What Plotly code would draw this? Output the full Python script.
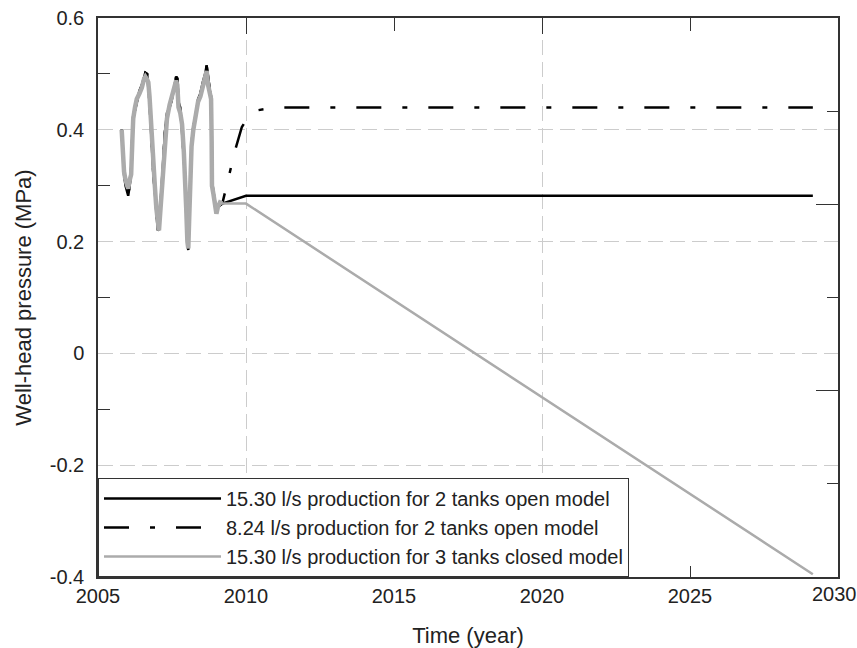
import plotly.graph_objects as go

# ---------------- data ----------------
hist_years = [2005.80, 2005.84, 2005.88, 2005.93, 2005.97, 2006.02, 2006.07, 2006.12, 2006.16, 2006.19,
              2006.25, 2006.31, 2006.40, 2006.48, 2006.55, 2006.60, 2006.66, 2006.70, 2006.74, 2006.78,
              2006.82, 2006.87, 2006.92, 2006.97, 2007.02, 2007.06, 2007.10, 2007.15, 2007.20, 2007.26,
              2007.33, 2007.42, 2007.50, 2007.58, 2007.64, 2007.68, 2007.72, 2007.78, 2007.84, 2007.90,
              2007.94, 2007.98, 2008.02, 2008.05, 2008.08, 2008.12, 2008.16, 2008.22, 2008.30, 2008.38,
              2008.46, 2008.54, 2008.62, 2008.67, 2008.72, 2008.78, 2008.82, 2008.84, 2008.85, 2008.90,
              2008.95, 2009.00, 2009.05, 2009.12, 2009.20]

observed_hist = [0.400, 0.360, 0.325, 0.310, 0.300, 0.295, 0.310, 0.320, 0.380, 0.420,
                 0.440, 0.455, 0.465, 0.475, 0.490, 0.495, 0.490, 0.485, 0.460, 0.420,
                 0.370, 0.330, 0.300, 0.260, 0.225, 0.220, 0.250, 0.290, 0.340, 0.390,
                 0.420, 0.445, 0.460, 0.478, 0.488, 0.480, 0.440, 0.430, 0.410, 0.360,
                 0.320, 0.260, 0.200, 0.188, 0.240, 0.320, 0.370, 0.400, 0.430, 0.450,
                 0.460, 0.478, 0.490, 0.505, 0.480, 0.465, 0.455, 0.380, 0.300, 0.285,
                 0.265, 0.250, 0.262, 0.270, 0.268]

model_hist = [0.400, 0.355, 0.320, 0.300, 0.290, 0.282, 0.300, 0.330, 0.390, 0.425,
              0.435, 0.450, 0.470, 0.480, 0.495, 0.502, 0.500, 0.480, 0.450, 0.410,
              0.360, 0.320, 0.290, 0.250, 0.220, 0.222, 0.260, 0.300, 0.350, 0.395,
              0.430, 0.440, 0.455, 0.480, 0.495, 0.492, 0.450, 0.440, 0.400, 0.350,
              0.310, 0.250, 0.195, 0.185, 0.250, 0.330, 0.375, 0.405, 0.425, 0.455,
              0.465, 0.485, 0.500, 0.515, 0.490, 0.470, 0.460, 0.360, 0.310, 0.290,
              0.270, 0.255, 0.262, 0.265, 0.268]

# forecasts
open15_years = [2010.00, 2029.15]
open15_values = [0.282, 0.282]

open8_years = [2009.30, 2009.43, 2009.63, 2009.86, 2010.10, 2010.40, 2011.00, 2029.15]
open8_values = [0.290, 0.320, 0.363, 0.405, 0.425, 0.435, 0.440, 0.440]

closed15_years = [2010.00, 2029.15]
closed15_values = [0.268, -0.395]

legend_names = ["15.30 l/s production for 2 tanks open model",
                "8.24 l/s production for 2 tanks open model",
                "15.30 l/s production for 3 tanks closed model"]

x_tick_vals = [2005, 2010, 2015, 2020, 2025, 2030]
x_tick_text = ["2005", "2010", "2015", "2020", "2025", "2030"]
y_tick_vals = [-0.4, -0.2, 0.0, 0.2, 0.4, 0.6]
y_tick_text = ["-0.4", "-0.2", "0", "0.2", "0.4", "0.6"]
y_minor_vals = [-0.3, -0.1, 0.1, 0.3, 0.5]

# ---------------- figure ----------------
FONT = "Liberation Sans, Arial, sans-serif"
AX = "#333333"
GRID = "#cccccc"
GRAY = "#ababab"
TXT = "#222222"

fig = go.Figure()

fig.add_trace(go.Scatter(
    x=hist_years + open15_years, y=model_hist + open15_values,
    mode="lines", name=legend_names[0], legendgroup="g1",
    line=dict(color="black", width=2.5)))

fig.add_trace(go.Scatter(
    x=hist_years + open8_years, y=model_hist + open8_values,
    mode="lines", name=legend_names[1], legendgroup="g2",
    line=dict(color="black", width=2.5, dash="25px,21px,5px,21px")))

fig.add_trace(go.Scatter(
    x=hist_years, y=observed_hist,
    mode="lines", showlegend=False, legendgroup="g3", hoverinfo="skip",
    line=dict(color=GRAY, width=4.5)))

fig.add_trace(go.Scatter(
    x=hist_years + closed15_years, y=observed_hist + closed15_values,
    mode="lines", name=legend_names[2], legendgroup="g3",
    line=dict(color=GRAY, width=2.5)))

# empty trace to bind the overlay axes (top / right tick marks)
fig.add_trace(go.Scatter(x=[], y=[], xaxis="x2", yaxis="y2",
                         showlegend=False, hoverinfo="skip"))

# the last x label sits on the right edge: draw it nudged slightly inward
bottom_labels = x_tick_text[:-1] + [""]
fig.add_annotation(x=x_tick_vals[-1], xref="x", y=0, yref="paper",
                   text=x_tick_text[-1], showarrow=False,
                   xanchor="center", yanchor="middle", xshift=-4, yshift=-17,
                   font=dict(family=FONT, size=20, color=TXT))

fig.update_layout(
    width=857, height=648,
    margin=dict(l=98, r=19, t=18, b=71, autoexpand=False),
    paper_bgcolor="white", plot_bgcolor="white",
    font=dict(family=FONT, size=20, color=TXT),
    showlegend=True,
    legend=dict(x=0, y=0, xanchor="left", yanchor="bottom",
                bgcolor="white", bordercolor=AX, borderwidth=1,
                font=dict(family=FONT, size=20, color=TXT),
                itemwidth=117, tracegroupgap=0),
    xaxis=dict(range=[2005, 2030], tickmode="array", tickvals=x_tick_vals, ticktext=bottom_labels,
               ticks="inside", ticklen=11, tickcolor=AX, tickwidth=1,
               showline=True, linecolor=AX, linewidth=1.5, mirror=True,
               showgrid=False, zeroline=False,
               automargin=False, tickfont=dict(size=20),
               title=dict(text="Time (year)", font=dict(size=22), standoff=24)),
    xaxis2=dict(range=[2005, 2030], overlaying="x", side="top", anchor="y",
                tickmode="array", tickvals=[2010, 2020], automargin=False,
                ticks="inside", ticklen=16, tickcolor=AX, tickwidth=1,
                showticklabels=False, showline=False, zeroline=False,
                showgrid=True, gridcolor=GRID, gridwidth=1, griddash="15px,7px",
                minor=dict(tickmode="array", tickvals=[2015, 2025], ticks="inside",
                           ticklen=13, tickcolor=AX, tickwidth=1, showgrid=False)),
    yaxis=dict(range=[-0.4, 0.6], tickmode="array", tickvals=y_tick_vals, ticktext=y_tick_text,
               ticks="", showline=True, linecolor=AX, linewidth=1.5, mirror=True,
               showgrid=True, gridcolor=GRID, gridwidth=1, griddash="15px,7px",
               zeroline=False, tickfont=dict(size=20), ticklabelstandoff=8,
               automargin=False,
               minor=dict(tickmode="array", tickvals=y_minor_vals, ticks="inside",
                          ticklen=12, tickcolor=AX, tickwidth=1, showgrid=False),
               title=dict(text="Well-head pressure (MPa)", font=dict(size=22), standoff=12)),
    yaxis2=dict(range=[0, 6], overlaying="y", side="right", anchor="x",
                tickmode="array", tickvals=[2, 4], ticks="inside", ticklen=22,
                tickcolor=AX, tickwidth=1, showticklabels=False, showline=False,
                showgrid=False, zeroline=False, automargin=False,
                minor=dict(tickmode="array", tickvals=[1, 3, 5], ticks="inside",
                           ticklen=11, tickcolor=AX, tickwidth=1, showgrid=False)),
)

fig.write_html("out.html")
